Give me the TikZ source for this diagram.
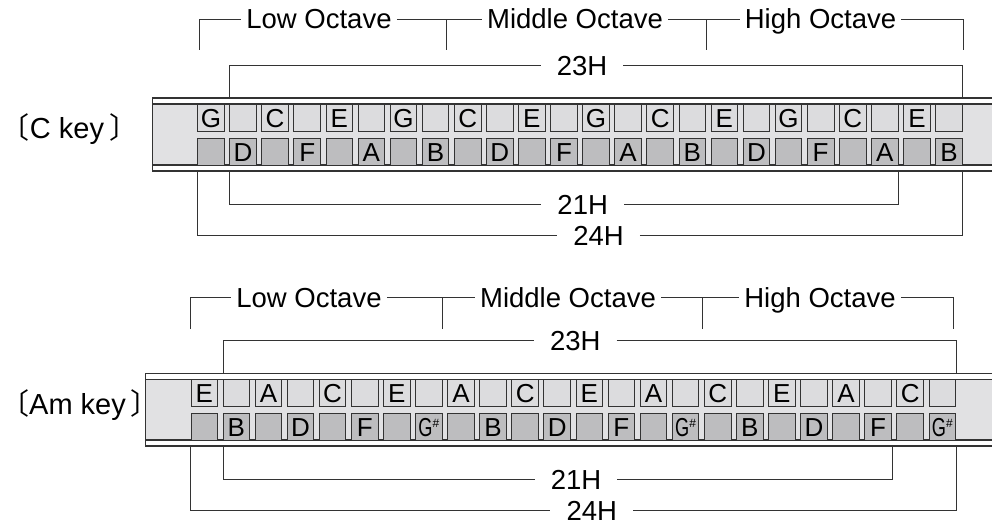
\documentclass[tikz,border=0pt]{standalone}
\usepackage{fontspec}
\setmainfont{Liberation Sans}
\newfontfamily\cjkfont{Noto Sans CJK JP}
\definecolor{ink}{HTML}{333333}
\definecolor{bodygray}{HTML}{E1E1E3}
\definecolor{blowgray}{HTML}{DCDCDE}
\definecolor{drawgray}{HTML}{BDBDBF}
\newcommand{\Gsharp}{\scalebox{0.7}[1]{G}\raisebox{9pt}{\fontsize{12}{12}\selectfont\#}}

\begin{document}
\begin{tikzpicture}[x=1pt, y=-1pt,
  blow/.style={draw=ink, fill=blowgray, line width=0.9pt, minimum size=26.6pt, inner sep=0pt,
    text height=19pt, text depth=0pt, font=\fontsize{26}{26}\selectfont},
  drawn/.style={blow, fill=drawgray},
  rim/.style={draw=ink, line width=1.6pt},
  dim/.style={draw=ink, line width=0.9pt},
  oct/.style={font=\fontsize{27.5}{28}\selectfont, text height=20pt, text depth=0pt, inner ysep=0pt, inner xsep=5pt},
  len/.style={oct, inner xsep=16pt},
  keyname/.style={oct, inner xsep=0pt, font=\fontsize{29}{30}\selectfont}
]
\useasboundingbox (0,0) rectangle (992,524);

% --- C key: body ---
\fill[bodygray] (152.3,104) rectangle (992,165);
\draw[rim] (992,98.3) -| (152.3,171) -- (992,171);
\draw[rim] (152.3,104) -- (992,104);
\draw[rim] (152.3,165) -- (992,165);
\node[keyname] (c-key) at (69.5,129) {{\cjkfont 〔}C key\hspace{5pt}{\cjkfont 〕}};

% --- C key: holes ---
\foreach \t [count=\i from 0] in {G,{},C,{},E,{},G,{},C,{},E,{},G,{},C,{},E,{},G,{},C,{},E,{}}
  \node[blow] (c-u\i) at (210.95+\i*32.09, 117.75) {\t};
\foreach \t [count=\i from 0] in {{},D,{},F,{},A,{},B,{},D,{},F,{},A,{},B,{},D,{},F,{},A,{},B}
  \node[drawn] (c-l\i) at (210.95+\i*32.09, 151.65) {\t};

% --- C key: octaves ---
\node[oct] (c-low)  at (319,19)   {Low Octave};
\node[oct] (c-mid)  at (575,19)   {Middle Octave};
\node[oct] (c-high) at (820.5,19) {High Octave};
\coordinate (c-o0) at (199,50);
\coordinate (c-o1) at (446,50);
\coordinate (c-o2) at (706,50);
\coordinate (c-o3) at (963,50);
\draw[dim] (c-o0) |- (c-low.west);
\draw[dim] (c-low.east) -- (c-mid.west);
\draw[dim] (c-mid.east) -- (c-high.west);
\draw[dim] (c-high.east) -| (c-o3);
\draw[dim] (c-o1) -- (c-o1 |- c-low.east);
\draw[dim] (c-o2) -- (c-o2 |- c-mid.east);

% --- C key: lengths ---
\node[len] (c-23) at (582,65.7)    {23H};
\node[len] (c-21) at (582.7,204.3) {21H};
\node[len] (c-24) at (598.5,235.7) {24H};
\coordinate (c-23l) at (229.7,98.3);
\coordinate (c-23r) at (962.7,98.3);
\coordinate (c-21l) at (229.7,171);
\coordinate (c-21r) at (898.9,171);
\coordinate (c-24l) at (197.6,171);
\coordinate (c-24r) at (962.7,171);
\draw[dim] (c-23l) |- (c-23.west);
\draw[dim] (c-23.east) -| (c-23r);
\draw[dim] (c-21l) |- (c-21.west);
\draw[dim] (c-21.east) -| (c-21r);
\draw[dim] (c-24l) |- (c-24.west);
\draw[dim] (c-24.east) -| (c-24r);

% --- Am key: body ---
\fill[bodygray] (145.6,379.3) rectangle (992,440);
\draw[rim] (992,373.3) -| (145.6,446) -- (992,446);
\draw[rim] (145.6,379.3) -- (992,379.3);
\draw[rim] (145.6,440) -- (992,440);
\node[keyname] (am-key) at (80,404) {{\cjkfont 〔}Am key\hspace{5pt}{\cjkfont 〕}};

% --- Am key: holes ---
\foreach \t [count=\i from 0] in {E,{},A,{},C,{},E,{},A,{},C,{},E,{},A,{},C,{},E,{},A,{},C,{}}
  \node[blow] (am-u\i) at (204.25+\i*32.09, 392.75) {\t};
\foreach \t [count=\i from 0] in {{},B,{},D,{},F,{},\Gsharp,{},B,{},D,{},F,{},\Gsharp,{},B,{},D,{},F,{},\Gsharp}
  \node[drawn] (am-l\i) at (204.25+\i*32.09, 426.65) {\t};

% --- Am key: octaves ---
\node[oct] (am-low)  at (309,297) {Low Octave};
\node[oct] (am-mid)  at (568,297) {Middle Octave};
\node[oct] (am-high) at (820,297) {High Octave};
\coordinate (am-o0) at (190,329);
\coordinate (am-o1) at (442.7,329);
\coordinate (am-o2) at (702.7,329);
\coordinate (am-o3) at (953.3,329);
\draw[dim] (am-o0) |- (am-low.west);
\draw[dim] (am-low.east) -- (am-mid.west);
\draw[dim] (am-mid.east) -- (am-high.west);
\draw[dim] (am-high.east) -| (am-o3);
\draw[dim] (am-o1) -- (am-o1 |- am-low.east);
\draw[dim] (am-o2) -- (am-o2 |- am-mid.east);

% --- Am key: lengths ---
\node[len] (am-23) at (575.3,340.7) {23H};
\node[len] (am-21) at (576,479.3)   {21H};
\node[len] (am-24) at (591.8,510)   {24H};
\coordinate (am-23l) at (223,373.3);
\coordinate (am-23r) at (956,373.3);
\coordinate (am-21l) at (223,446);
\coordinate (am-21r) at (892.2,446);
\coordinate (am-24l) at (190.9,446);
\coordinate (am-24r) at (956,446);
\draw[dim] (am-23l) |- (am-23.west);
\draw[dim] (am-23.east) -| (am-23r);
\draw[dim] (am-21l) |- (am-21.west);
\draw[dim] (am-21.east) -| (am-21r);
\draw[dim] (am-24l) |- (am-24.west);
\draw[dim] (am-24.east) -| (am-24r);

\end{tikzpicture}
\end{document}
